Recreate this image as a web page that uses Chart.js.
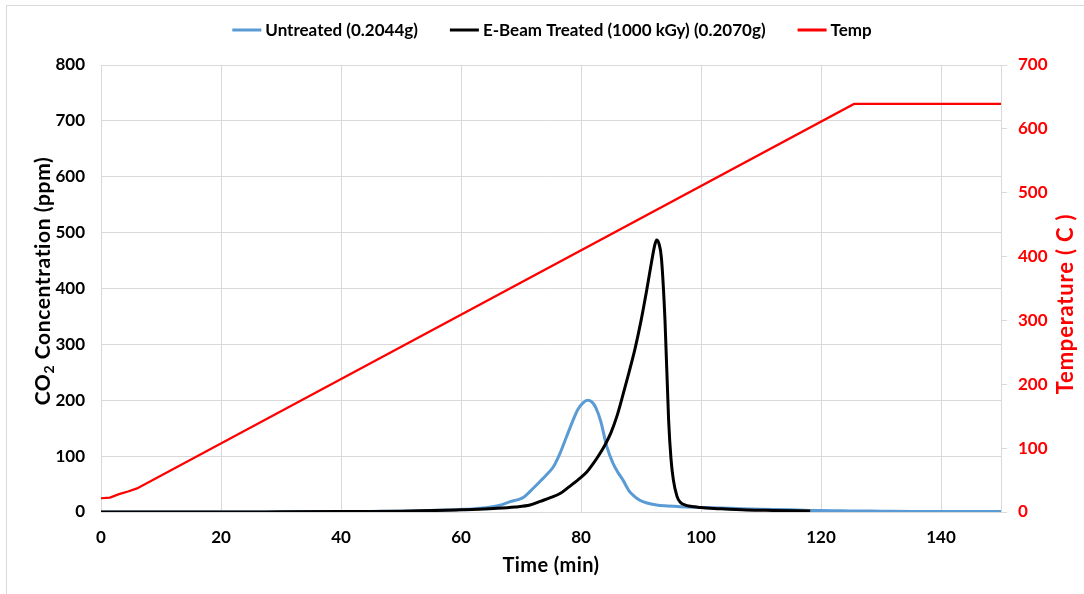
<!DOCTYPE html>
<html>
<head>
<meta charset="utf-8">
<script src="https://cdn.jsdelivr.net/npm/chart.js@4/dist/chart.umd.min.js"></script>
<style>
  html, body { margin: 0; padding: 0; background: #fff; }
  #wrap { position: relative; width: 1084px; height: 594px; }
  #frame { position: absolute; left: 6px; top: 5px; width: 1090px; height: 600px; border: 1px solid #d9d9d9; box-sizing: border-box; pointer-events: none; }
</style>
</head>
<body>
<div id="wrap">
  <canvas id="c" width="1084" height="594"></canvas>
  <div id="frame"></div>
</div>
<script>
// ---- Data ----
const seriesLabels = ["Untreated (0.2044g)", "E-Beam Treated (1000 kGy) (0.2070g)", "Temp"];

const untreatedTime = [0, 10, 20, 30, 40, 45, 50, 55, 58, 60, 62, 63.2, 65, 66.5, 68.2, 69.5, 70.5, 72, 73.2, 74.3, 75.4, 76.5, 77.6, 78.7, 79.5, 80.3, 81.1, 81.8, 82.5, 83.3, 84.3, 85.3, 86.2, 87, 88, 88.9, 89.8, 91, 92.6, 94, 96.5, 100, 105, 110, 115, 119.8, 125, 130, 135, 140, 145, 150];
const untreatedCO2  = [0, 0, 0, 0.2, 0.5, 1, 1.5, 2.5, 3.5, 4.5, 5.5, 6.6, 9, 12, 18.5, 22, 27, 42, 55, 67, 81, 105, 135, 165, 184, 195, 200, 197, 186, 162, 117, 88, 70, 57, 38, 28, 21, 16, 12.5, 11, 9.5, 8, 6.5, 5, 4, 2.5, 2, 1.5, 1, 0.8, 0.8, 0.8];

const ebeamTime = [0, 10, 20, 30, 40, 45, 50, 55, 60, 63, 66, 69, 71.5, 73.2, 75, 76.5, 78, 80, 81, 82, 83, 84, 85, 86, 87, 88, 89, 90, 91, 91.8, 92.3, 92.6, 93, 93.4, 94, 94.6, 95, 95.4, 96, 96.5, 97.5, 99, 100, 103, 107.6, 112, 118.2];
const ebeamCO2  = [0, 0, 0, 0.3, 0.7, 1, 1.5, 2.5, 4, 5, 6.5, 9, 12.5, 19, 26, 33, 45, 62, 72, 86, 102, 120, 142, 172, 210, 250, 292, 342, 400, 450, 478, 487, 480, 455, 343, 165, 95, 57, 28, 18, 12, 9.5, 8, 6, 3.6, 2.8, 2];

const tempTime = [0, 1.5, 3, 4.5, 6, 125.5, 150];
const tempC    = [21.5, 22.5, 28, 32, 37, 639, 639];

const xTicks = [0, 20, 40, 60, 80, 100, 120, 140];
const leftTicks = [0, 100, 200, 300, 400, 500, 600, 700, 800];
const rightTicks = [0, 100, 200, 300, 400, 500, 600, 700];

const colors = ["#5b9bd5", "#000000", "#ff0000"];

function pts(xs, ys) { return xs.map((x, i) => ({ x: x, y: ys[i] })); }

const FONT = "Lato, 'Open Sans', 'Liberation Sans', sans-serif";

const titlesAndLegend = {
  id: 'titlesAndLegend',
  afterDraw(chart) {
    const ctx = chart.ctx;
    ctx.save();
    // Legend
    ctx.font = "bold 17px " + FONT;
    ctx.textBaseline = "middle";
    ctx.textAlign = "left";
    const lineW = 29, gapT = 4, gapI = 32;
    const widths = seriesLabels.map(t => ctx.measureText(t).width);
    let total = 0;
    widths.forEach((w, i) => { total += lineW + gapT + w + (i < widths.length - 1 ? gapI : 0); });
    let x = 552 - total / 2;
    const ly = 30;
    seriesLabels.forEach((t, i) => {
      ctx.strokeStyle = colors[i];
      ctx.lineWidth = 3;
      ctx.beginPath();
      ctx.moveTo(x, ly);
      ctx.lineTo(x + lineW, ly);
      ctx.stroke();
      ctx.fillStyle = "#000";
      ctx.fillText(t, x + lineW + gapT, ly + 1);
      x += lineW + gapT + widths[i] + gapI;
    });

    // X title
    ctx.font = "bold 20px " + FONT;
    ctx.letterSpacing = "0.4px";
    ctx.textAlign = "center";
    ctx.fillStyle = "#000";
    ctx.fillText("Time (min)", 551, 566);

    // Left title with subscript
    ctx.save();
    ctx.translate(43, 281);
    ctx.rotate(-Math.PI / 2);
    ctx.letterSpacing = "0.6px";
    const f1 = "bold 21px " + FONT, f2 = "bold 14px " + FONT;
    ctx.font = f1; const wCO = ctx.measureText("CO").width;
    ctx.font = f2; const w2 = ctx.measureText("2").width;
    ctx.font = f1; const wRest = ctx.measureText(" Concentration (ppm)").width;
    const tw = wCO + w2 + wRest;
    let sx = -tw / 2;
    ctx.textAlign = "left";
    ctx.textBaseline = "middle";
    ctx.font = f1; ctx.fillText("CO", sx, 0); sx += wCO;
    ctx.font = f2; ctx.fillText("2", sx, 6); sx += w2;
    ctx.font = f1; ctx.fillText(" Concentration (ppm)", sx, 0);
    ctx.restore();

    // Right title
    ctx.save();
    ctx.translate(1066, 304);
    ctx.rotate(-Math.PI / 2);
    ctx.letterSpacing = "0.8px";
    ctx.font = "bold 22px " + FONT;
    ctx.fillStyle = "#ff0000";
    ctx.textAlign = "center";
    ctx.textBaseline = "middle";
    ctx.fillText("Temperature ( C )", 0, 0);
    ctx.restore();

    ctx.restore();
  }
};

new Chart(document.getElementById('c'), {
  type: 'line',
  data: {
    datasets: [
      { label: seriesLabels[0], data: pts(untreatedTime, untreatedCO2), borderColor: colors[0], backgroundColor: colors[0], borderWidth: 3, pointRadius: 0, yAxisID: 'y', order: 3, cubicInterpolationMode: 'monotone' },
      { label: seriesLabels[1], data: pts(ebeamTime, ebeamCO2), borderColor: colors[1], backgroundColor: colors[1], borderWidth: 3, pointRadius: 0, yAxisID: 'y', order: 2, cubicInterpolationMode: 'monotone' },
      { label: seriesLabels[2], data: pts(tempTime, tempC), borderColor: colors[2], backgroundColor: colors[2], borderWidth: 2.2, pointRadius: 0, yAxisID: 'y2', order: 1, tension: 0 }
    ]
  },
  options: {
    responsive: false,
    animation: false,
    layout: { padding: { top: 65, left: 0, right: 0, bottom: 0 } },
    plugins: { legend: { display: false }, tooltip: { enabled: false } },
    scales: {
      x: {
        type: 'linear', min: 0, max: 150,
        afterFit(s) { s.height = 82; },
        afterBuildTicks(s) { s.ticks = xTicks.map(v => ({ value: v })); },
        grid: { color: '#d9d9d9', drawTicks: false, lineWidth: 1 },
        border: { color: '#d9d9d9' },
        ticks: { padding: 15, color: '#000', font: { family: FONT, size: 17, weight: 'bold' }, maxRotation: 0 }
      },
      y: {
        type: 'linear', position: 'left', min: 0, max: 800,
        afterFit(s) { s.width = 101; },
        afterBuildTicks(s) { s.ticks = leftTicks.map(v => ({ value: v })); },
        grid: { color: '#d9d9d9', drawTicks: false },
        border: { color: '#d9d9d9' },
        ticks: { padding: 16, color: '#000', font: { family: FONT, size: 17, weight: 'bold' } }
      },
      y2: {
        type: 'linear', position: 'right', min: 0, max: 700,
        afterFit(s) { s.width = 83; },
        afterBuildTicks(s) { s.ticks = rightTicks.map(v => ({ value: v })); },
        grid: { color: '#d9d9d9', drawOnChartArea: false, drawTicks: true, tickLength: 6 },
        border: { color: '#d9d9d9' },
        ticks: { padding: 11, color: '#ff0000', font: { family: FONT, size: 17, weight: 'bold' } }
      }
    }
  },
  plugins: [titlesAndLegend]
});
</script>
</body>
</html>
